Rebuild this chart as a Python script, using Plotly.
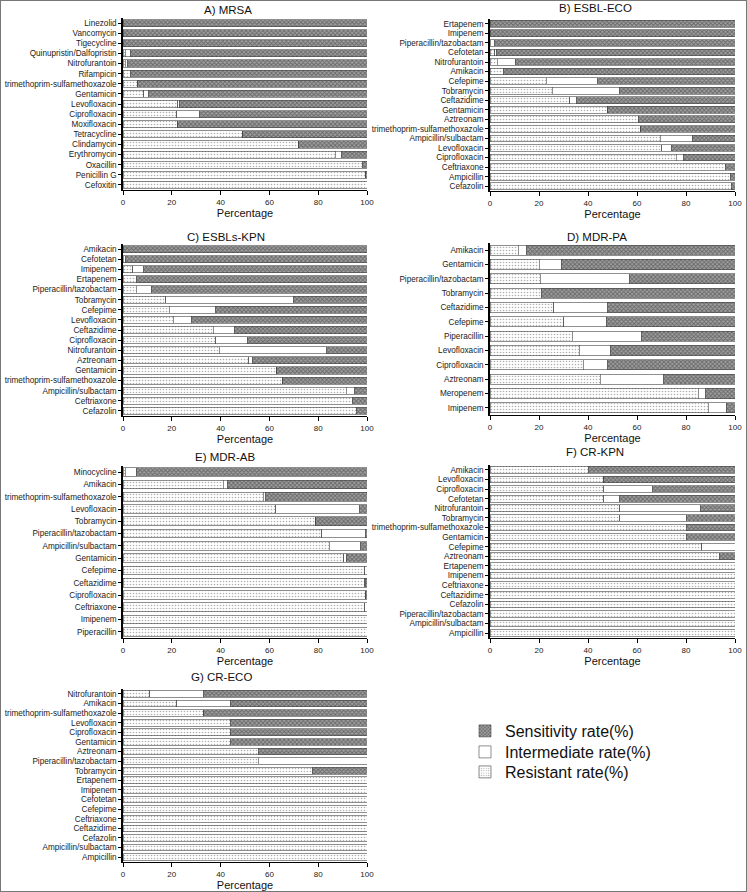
import plotly.graph_objects as go

# ---------------- data (top-to-bottom order) ----------------
A_drugs = ["Linezolid", "Vancomycin", "Tigecycline", "Quinupristin/Dalfopristin", "Nitrofurantoin",
           "Rifampicin", "trimethoprim-sulfamethoxazole", "Gentamicin", "Levofloxacin", "Ciprofloxacin",
           "Moxifloxacin", "Tetracycline", "Clindamycin", "Erythromycin", "Oxacillin", "Penicillin G", "Cefoxitin"]
A_R = [0, 0, 0, 1, 1, 3, 6, 8.5, 22.5, 22, 22.5, 49, 72, 87, 98, 99.5, 100]
A_I = [0, 0, 0, 2, 1, 0, 0, 2, 0.5, 9.5, 0, 0, 0, 2.5, 0, 0, 0]
A_S = [100, 100, 100, 97, 98, 97, 94, 89.5, 77, 68.5, 77.5, 51, 28, 10.5, 2, 0.5, 0]

B_drugs = ["Ertapenem", "Imipenem", "Piperacillin/tazobactam", "Cefotetan", "Nitrofurantoin", "Amikacin",
           "Cefepime", "Tobramycin", "Ceftazidime", "Gentamicin", "Aztreonam", "trimethoprim-sulfamethoxazole",
           "Ampicillin/sulbactam", "Levofloxacin", "Ciprofloxacin", "Ceftriaxone", "Ampicillin", "Cefazolin"]
B_R = [0, 0, 0, 2, 3, 5.5, 23, 25.5, 32.5, 48, 60.5, 61.5, 69.5, 70, 76, 96, 98, 98.5]
B_I = [0, 0, 2, 0.5, 7.5, 0, 21, 27.5, 3, 0, 0, 0, 13, 4, 3, 0, 0, 0]
B_S = [100, 100, 98, 97.5, 89.5, 94.5, 56, 47, 64.5, 52, 39.5, 38.5, 17.5, 26, 21, 4, 2, 1.5]

C_drugs = ["Amikacin", "Cefotetan", "Imipenem", "Ertapenem", "Piperacillin/tazobactam", "Tobramycin",
           "Cefepime", "Levofloxacin", "Ceftazidime", "Ciprofloxacin", "Nitrofurantoin", "Aztreonam",
           "Gentamicin", "trimethoprim-sulfamethoxazole", "Ampicillin/sulbactam", "Ceftriaxone", "Cefazolin"]
C_R = [0, 0, 4, 5.5, 5.5, 17.5, 19, 20.5, 37, 38, 39.5, 51.5, 63, 65.5, 91.5, 94, 95.5]
C_I = [0, 1, 4.5, 0, 6, 52.5, 19, 7.5, 8.5, 13, 44, 1.5, 0, 0, 3.5, 0, 0]
C_S = [100, 99, 91.5, 94.5, 88.5, 30, 62, 72, 54.5, 49, 16.5, 47, 37, 34.5, 5, 6, 4.5]

D_drugs = ["Amikacin", "Gentamicin", "Piperacillin/tazobactam", "Tobramycin", "Ceftazidime", "Cefepime",
           "Piperacillin", "Levofloxacin", "Ciprofloxacin", "Aztreonam", "Meropenem", "Imipenem"]
D_R = [11.5, 20, 20.5, 21, 26, 30, 33.5, 36.5, 38, 45, 85, 89]
D_I = [3.5, 9, 36.5, 0, 22, 17.5, 28.5, 12.5, 10, 26, 3, 7.5]
D_S = [85, 71, 43, 79, 52, 52.5, 38, 51, 52, 29, 12, 3.5]

E_drugs = ["Minocycline", "Amikacin", "trimethoprim-sulfamethoxazole", "Levofloxacin", "Tobramycin",
           "Piperacillin/tazobactam", "Ampicillin/sulbactam", "Gentamicin", "Cefepime", "Ceftazidime",
           "Ciprofloxacin", "Ceftriaxone", "Imipenem", "Piperacillin"]
E_R = [1, 41, 57.5, 62.5, 79, 81.5, 84.5, 90.5, 99, 99, 99.5, 99, 100, 100]
E_I = [4.5, 2, 1, 34.5, 0, 18, 13, 1, 1, 0.5, 0, 1, 0, 0]
E_S = [94.5, 57, 41.5, 3, 21, 0.5, 2.5, 8.5, 0, 0.5, 0.5, 0, 0, 0]

F_drugs = ["Amikacin", "Levofloxacin", "Ciprofloxacin", "Cefotetan", "Nitrofurantoin", "Tobramycin",
           "trimethoprim-sulfamethoxazole", "Gentamicin", "Cefepime", "Aztreonam", "Ertapenem", "Imipenem",
           "Ceftriaxone", "Ceftazidime", "Cefazolin", "Piperacillin/tazobactam", "Ampicillin/sulbactam", "Ampicillin"]
F_R = [40, 46.5, 46.5, 46.5, 53, 53, 80, 80, 86.5, 93.5, 100, 100, 100, 100, 100, 100, 100, 100]
F_I = [0, 0, 20, 6.5, 33, 27, 0, 0, 13.5, 0, 0, 0, 0, 0, 0, 0, 0, 0]
F_S = [60, 53.5, 33.5, 47, 14, 20, 20, 20, 0, 6.5, 0, 0, 0, 0, 0, 0, 0, 0]

G_drugs = ["Nitrofurantoin", "Amikacin", "trimethoprim-sulfamethoxazole", "Levofloxacin", "Ciprofloxacin",
           "Gentamicin", "Aztreonam", "Piperacillin/tazobactam", "Tobramycin", "Ertapenem", "Imipenem",
           "Cefotetan", "Cefepime", "Ceftriaxone", "Ceftazidime", "Cefazolin", "Ampicillin/sulbactam", "Ampicillin"]
G_R = [11, 22, 33, 44, 44, 44, 55.5, 55.5, 77.5, 100, 100, 100, 100, 100, 100, 100, 100, 100]
G_I = [22, 22, 0, 0, 0, 0, 0, 44.5, 0, 0, 0, 0, 0, 0, 0, 0, 0, 0]
G_S = [67, 56, 67, 56, 56, 56, 44.5, 0, 22.5, 0, 0, 0, 0, 0, 0, 0, 0, 0]

panel_titles = ["A) MRSA", "B) ESBL-ECO", "C) ESBLs-KPN", "D) MDR-PA", "E) MDR-AB", "F) CR-KPN", "G) CR-ECO"]
x_ticks = [0, 20, 40, 60, 80, 100]
series_names = ["Resistant rate(%)", "Intermediate rate(%)", "Sensitivity rate(%)"]

panels = [
    (A_drugs, A_R, A_I, A_S),
    (B_drugs, B_R, B_I, B_S),
    (C_drugs, C_R, C_I, C_S),
    (D_drugs, D_R, D_I, D_S),
    (E_drugs, E_R, E_I, E_S),
    (F_drugs, F_R, F_I, F_S),
    (G_drugs, G_R, G_I, G_S),
]

# ---------------- layout geometry ----------------
W, H = 747, 892
xdom_left = [123 / W, 367 / W]
xdom_right = [490 / W, 735 / W]
ydoms_px = [(18, 190), (19, 191), (244, 416), (243, 415), (466, 638), (465, 638), (689, 862)]
title_px = [(228, 10), (595, 8), (226, 237), (597, 237), (225, 457), (595, 452), (222, 677)]
legend_rows_px = [772, 752, 731]   # Resistant, Intermediate, Sensitivity (centres)
legend_ids = ["legend3", "legend2", "legend"]

FONT = "Liberation Sans, Arial, sans-serif"

styles = [
    dict(color="white", pattern=dict(shape=".", size=3, solidity=0.22, fgcolor="#606060", bgcolor="white")),
    dict(color="white"),
    dict(color="#8a8a8a", pattern=dict(shape="x", size=3, solidity=0.5, fgcolor="#2e2e2e", bgcolor="#a0a0a0")),
]

fig = go.Figure()
layout = dict(
    width=W, height=H, margin=dict(l=0, r=0, t=0, b=0),
    paper_bgcolor="white", plot_bgcolor="white",
    barmode="stack", bargap=0.3,
    font=dict(family=FONT, color="#111111"),
    showlegend=True,
)
for lid, cy in zip(legend_ids, legend_rows_px):
    layout[lid] = dict(x=465 / W, y=1 - cy / H, xanchor="left", yanchor="middle",
                       font=dict(size=16, family=FONT, color="#111"),
                       bgcolor="rgba(0,0,0,0)", itemwidth=30)

annotations = []
for k, (drugs, R, I, S) in enumerate(panels):
    idx = "" if k == 0 else str(k + 1)
    xa, ya = "x" + idx, "y" + idx
    for j, vals in enumerate([R, I, S]):
        fig.add_trace(go.Bar(
            y=drugs, x=vals, orientation="h", xaxis=xa, yaxis=ya,
            name=series_names[j], legendgroup=series_names[j], showlegend=(k == 0),
            legend=legend_ids[j],
            marker=dict(line=dict(color="#444444", width=0.6), **styles[j]),
        ))
    xdom = xdom_left if k % 2 == 0 else xdom_right
    y0, y1 = ydoms_px[k]
    layout["xaxis" + idx] = dict(
        domain=xdom, anchor=ya, range=[0, 100], tickvals=x_ticks,
        showline=True, linecolor="black", linewidth=1, ticks="outside", ticklen=4,
        tickcolor="black", showgrid=False, zeroline=False, automargin=False,
        tickfont=dict(size=8, color="#222"),
        title=dict(text="Percentage", font=dict(size=11, color="#111"), standoff=1),
    )
    layout["yaxis" + idx] = dict(
        domain=[1 - y1 / H, 1 - y0 / H], anchor=xa, type="category",
        categoryorder="array", categoryarray=drugs, autorange="reversed",
        tickmode="array", tickvals=drugs, ticktext=drugs,
        showline=True, linecolor="black", linewidth=1.5, ticks="outside", ticklen=3,
        tickcolor="black", showgrid=False, zeroline=False, automargin=False,
        tickfont=dict(size=8.2, color="#222"),
    )
    tx, ty = title_px[k]
    annotations.append(dict(text=panel_titles[k], x=tx / W, y=1 - ty / H, xref="paper", yref="paper",
                            showarrow=False, font=dict(size=11.5, color="#111"),
                            xanchor="center", yanchor="middle"))

layout["annotations"] = annotations
layout["shapes"] = [dict(type="rect", xref="paper", yref="paper", x0=0, y0=0, x1=1, y1=1,
                         line=dict(color="#777777", width=2), fillcolor="rgba(0,0,0,0)")]
fig.update_layout(**layout)
fig.write_html("out.html", config={"displayModeBar": False},
               post_script="document.body.style.margin='0px';")
